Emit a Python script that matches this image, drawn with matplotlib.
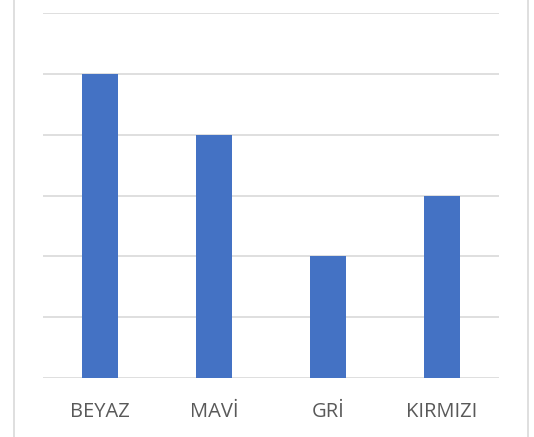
import matplotlib.pyplot as plt
from matplotlib.lines import Line2D

categories = ["BEYAZ", "MAVİ", "GRİ", "KIRMIZI"]
values = [5, 4, 2, 3]

W, H = 534, 437
fig = plt.figure(figsize=(W / 100, H / 100), dpi=100)
ax = fig.add_axes([43 / W, 1 - 378 / H, (499 - 43) / W, (378 - 13.3) / H])

grid_color = "#d9d9d9"
ax.bar(range(len(categories)), values, width=0.316, color="#4472c4", zorder=3)
ax.set_xlim(-0.5, len(categories) - 0.5)
ax.set_ylim(0, 6)
ax.set_yticks(range(0, 7))
ax.yaxis.grid(True, color=grid_color, lw=1.2)
ax.set_axisbelow(True)
ax.tick_params(left=False, labelleft=False, bottom=False)
for s in ["top", "right", "left", "bottom"]:
    ax.spines[s].set_visible(False)
ax.set_xticks(range(len(categories)))
ax.set_xticklabels(categories, fontsize=14.5, color="#595959", family="Open Sans")
ax.tick_params(axis="x", pad=14)

# chart frame edges
for x in (13.5, 527.5):
    fig.add_artist(Line2D([x / W, x / W], [0, 1], color=grid_color, lw=1.2))

fig.savefig("out.png", dpi=100, facecolor="white")
